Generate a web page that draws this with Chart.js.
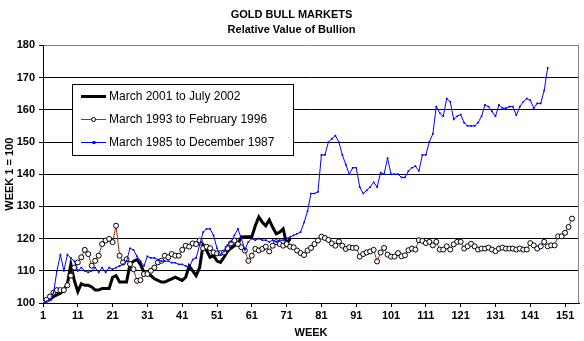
<!DOCTYPE html>
<html>
<head>
<meta charset="utf-8">
<title>Gold Bull Markets</title>
<script src="https://cdn.jsdelivr.net/npm/chart.js@4/dist/chart.umd.min.js"></script>
<style>
  html, body { margin: 0; padding: 0; background: #fff; }
  canvas { display: block; }
</style>
</head>
<body>
<canvas id="goldChart" width="584" height="341"></canvas>
<script>
// Weekly bullion value, indexed so that week 1 = 100
const WEEK_TICKS = [1, 11, 21, 31, 41, 51, 61, 71, 81, 91, 101, 111, 121, 131, 141, 151];
const LAST_WEEK = 155;
const Y_MIN = 100, Y_MAX = 180, Y_STEP = 10;

const SERIES_LABELS = ['March 2001 to July 2002', 'March 1993 to February 1996', 'March 1985 to December 1987'];

const RUN_2001 = [
  100, 101, 101, 102, 102.5, 103, 104, 106, 112, 107,
  103.5, 106, 105.5, 105.5, 105, 104, 104, 104.5, 104.5, 104.5,
  108, 108.5, 106.5, 106.5, 106.5, 112, 113, 113.5, 112, 109.5,
  109, 108.5, 107.5, 107, 106.5, 106.5, 107, 107.5, 108, 107.5,
  107, 108, 111.5, 110, 108.5, 111, 118, 116.3, 114.2, 114.7,
  113, 112.6, 114.2, 116, 117, 117.8, 118.5, 120.5, 120.6, 120.6,
  120.6, 124, 126.7, 125.1, 124, 125.8, 123.5, 121.5, 122, 123,
  118.3, 120
];

const RUN_1993 = [
  100, 101, 102, 103.2, 104, 104, 104, 105.5, 108.5, 111,
  112.6, 114.2, 116.5, 115.2, 111.6, 113.1, 114.7, 118.3, 119.4, 119.9,
  118.9, 124, 114.7, 112.6, 113.6, 112.1, 110.5, 106.9, 107.1, 109,
  109, 110, 111, 112.6, 113.1, 114.7, 114.2, 115.2, 114.7, 114.7,
  116.5, 117.8, 117.5, 118.5, 118.3, 119.4, 117, 117.5, 117, 115.7,
  115.4, 115.5, 115.7, 117, 118.5, 119.4, 118.3, 117.3, 116.3, 113.1,
  114.7, 116.8, 116.3, 116.8, 117.5, 116, 117.8, 118.9, 118.3, 117.8,
  118.3, 117.5, 117.3, 116.3, 115.5, 114.9, 116.3, 117.1, 118.3, 119.4,
  120.6, 120.2, 119.6, 118.5, 117.8, 119.1, 117.8, 116.8, 117.3, 117.1,
  117.1, 114.4, 115.2, 115.7, 116, 116.5, 112.9, 115.7, 117.1, 115,
  114.4, 114.4, 115.5, 114.5, 114.8, 116.4, 116.9, 116.6, 119.5, 119.3,
  118.6, 119, 117.9, 119, 116.6, 116.6, 117.6, 116.6, 118.2, 119,
  119, 116.9, 117.6, 118.4, 117.6, 116.6, 116.9, 116.9, 117.2, 116.6,
  116.1, 116.9, 117.2, 116.9, 116.9, 116.9, 116.6, 116.9, 116.6, 116.6,
  118.6, 117.9, 116.9, 117.6, 119, 117.6, 117.9, 117.9, 120.7, 120.7,
  121.8, 123.6, 126.2
];

const RUN_1985 = [
  100, 100.5, 101, 103, 110, 115, 110, 115, 114, 113,
  110, 111, 110, 109.5, 110, 111, 109.5, 111, 109.5, 111,
  110.5, 111, 111.5, 112, 113, 117, 116.5, 114.5, 113, 111.5,
  114.5, 114, 114, 113.5, 113, 113, 113, 112.5, 112.5, 112,
  112, 111.5, 111, 113.5, 114, 118, 122, 123, 123, 121,
  117, 115, 116, 118, 119, 121, 123, 120, 116.5, 119,
  120, 119.5, 120, 119.5, 119.5, 119, 119.5, 119, 119.5, 119.5,
  120, 120.5, 121, 121.5, 122, 125, 128.5, 134, 134, 134.5,
  146, 146, 150, 151, 152, 150, 146, 143, 140, 142,
  142, 136, 134, 135, 136, 137.5, 136, 140.5, 140, 145,
  140, 140, 140, 139, 139, 141, 142, 142.5, 141, 146,
  146, 150, 152.5, 161, 159, 158, 163.5, 162.5, 157, 158,
  158.5, 156, 155, 155, 155, 156, 158, 161.5, 161, 159.5,
  158, 161.5, 160.5, 160.5, 161, 161, 158.3, 161, 162.5, 163.5,
  163, 160.5, 162, 162, 166, 173
];

const FONT = "'Liberation Sans', Arial, sans-serif";

function toPoints(vals) {
  return vals.map((v, i) => ({ x: i + 1, y: v }));
}

// gray frame on the right side of the plot
const plotFrame = {
  id: 'plotFrame',
  beforeDatasetsDraw(chart) {
    const { ctx, chartArea: a } = chart;
    ctx.save();
    ctx.strokeStyle = '#808080';
    ctx.lineWidth = 1;
    ctx.beginPath();
    ctx.moveTo(Math.round(a.right) - 0.5, a.top);
    ctx.lineTo(Math.round(a.right) - 0.5, a.bottom);
    ctx.stroke();
    ctx.restore();
  }
};

// boxed legend sitting inside the plot, upper left
const boxLegend = {
  id: 'boxLegend',
  afterDraw(chart) {
    const ctx = chart.ctx;
    const bx = 72, by = 84, bw = 221, bh = 71;
    ctx.save();
    ctx.fillStyle = '#fff';
    ctx.fillRect(bx, by, bw, bh);
    ctx.strokeStyle = '#000';
    ctx.lineWidth = 1;
    ctx.strokeRect(bx + 0.5, by + 0.5, bw, bh);
    ctx.font = '12px ' + FONT;
    ctx.textBaseline = 'middle';
    ctx.textAlign = 'left';
    chart.data.datasets.forEach((ds, i) => {
      const y = Math.round(by + 12 + i * 23) + 0.5;
      ctx.strokeStyle = ds.borderColor;
      ctx.lineWidth = ds.borderWidth;
      ctx.beginPath();
      ctx.moveTo(81, y);
      ctx.lineTo(106, y);
      ctx.stroke();
      if (ds.pointRadius > 0) {
        if (ds.pointStyle === 'rect') {
          ctx.fillStyle = ds.pointBackgroundColor;
          ctx.fillRect(92.5, y - 1.5, 3, 3);
        } else {
          ctx.fillStyle = ds.pointBackgroundColor;
          ctx.strokeStyle = ds.pointBorderColor;
          ctx.lineWidth = 1;
          ctx.beginPath();
          ctx.arc(93.5, y, 2, 0, Math.PI * 2);
          ctx.fill();
          ctx.stroke();
        }
      }
      ctx.fillStyle = '#000';
      ctx.fillText(ds.label, 109, y);
    });
    ctx.restore();
  }
};

Chart.defaults.color = '#000';
Chart.defaults.font.family = FONT;

new Chart(document.getElementById('goldChart'), {
  type: 'line',
  data: {
    datasets: [
      {
        label: SERIES_LABELS[0],
        data: toPoints(RUN_2001),
        borderColor: '#000000',
        borderWidth: 3,
        pointRadius: 0,
        order: 3
      },
      {
        label: SERIES_LABELS[1],
        data: toPoints(RUN_1993),
        borderColor: '#993300',
        borderWidth: 1,
        pointStyle: 'circle',
        pointRadius: 2.5,
        pointBackgroundColor: '#ffffff',
        pointBorderColor: '#000000',
        pointBorderWidth: 1,
        order: 2
      },
      {
        label: SERIES_LABELS[2],
        data: toPoints(RUN_1985),
        borderColor: '#0000ff',
        borderWidth: 1,
        pointStyle: 'rect',
        pointRadius: 1.2,
        pointBackgroundColor: '#0000ff',
        pointBorderWidth: 0,
        order: 1
      }
    ]
  },
  options: {
    responsive: false,
    animation: false,
    devicePixelRatio: 1,
    layout: { padding: { left: 0, right: 1, top: 0, bottom: 0 } },
    elements: { line: { tension: 0 } },
    plugins: {
      legend: { display: false },
      tooltip: { enabled: false },
      title: {
        display: true,
        text: 'GOLD BULL MARKETS',
        font: { size: 11, weight: 'bold' },
        padding: { top: 8, bottom: 2 }
      },
      subtitle: {
        display: true,
        text: 'Relative Value of Bullion',
        color: '#000',
        font: { size: 11, weight: 'bold' },
        padding: { top: 0, bottom: 9 }
      }
    },
    scales: {
      x: {
        type: 'linear',
        min: 1,
        max: LAST_WEEK,
        afterBuildTicks: (scale) => { scale.ticks = WEEK_TICKS.map(v => ({ value: v })); },
        afterFit: (scale) => { scale.height = 38; },
        grid: { drawOnChartArea: false, drawTicks: true, tickLength: 4, color: '#000' },
        border: { display: true, color: '#000', width: 1 },
        ticks: { font: { size: 11, weight: 'bold' }, padding: 2, maxRotation: 0, autoSkip: false },
        title: {
          display: true,
          text: 'WEEK',
          font: { size: 11, weight: 'bold' },
          padding: { top: 0, bottom: 1 }
        }
      },
      y: {
        min: Y_MIN,
        max: Y_MAX,
        afterFit: (scale) => { scale.width = 43; },
        ticks: { stepSize: Y_STEP, font: { size: 11, weight: 'bold' }, padding: 4 },
        grid: {
          color: (c) => (c.tick && c.tick.value === Y_MAX ? '#808080' : '#000'),
          tickColor: '#000',
          tickLength: 4,
          lineWidth: 1
        },
        border: { display: true, color: '#000', width: 1 },
        title: {
          display: true,
          text: 'WEEK 1 = 100',
          font: { size: 11, weight: 'bold' },
          padding: { top: 3, bottom: 0 }
        }
      }
    }
  },
  plugins: [plotFrame, boxLegend]
});
</script>
</body>
</html>
